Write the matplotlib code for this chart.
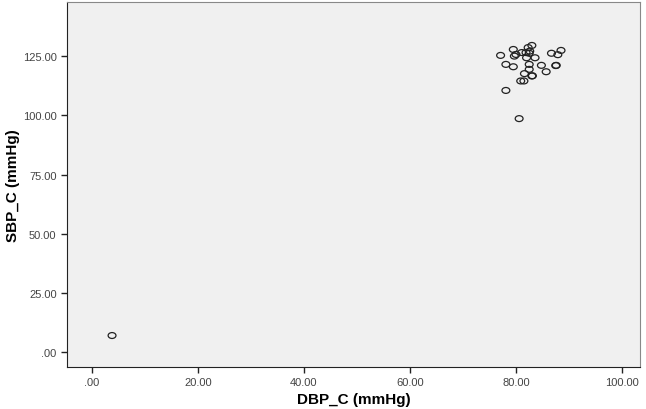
import matplotlib
matplotlib.use("Agg")
import matplotlib.pyplot as plt
from matplotlib.path import Path
from matplotlib.transforms import Affine2D

plt.rcParams['font.family'] = ['Liberation Sans', 'DejaVu Sans']

# DBP_C / SBP_C values
dbp = [3.8, 77.1, 79.5, 79.7, 80.0, 81.1, 81.9, 82.3, 82.6, 83.0, 82.5,
       82.0, 83.6, 78.1, 79.5, 82.5, 82.5, 84.8, 85.7, 86.7, 87.9, 88.5,
       87.5, 87.6, 81.6, 83.0, 83.1, 80.9, 81.5, 78.1, 80.6]
sbp = [7.0, 125.3, 127.8, 125.0, 125.7, 126.5, 126.5, 128.6, 127.1, 129.5, 126.2,
       124.3, 124.3, 121.5, 120.5, 121.5, 119.4, 121.1, 118.4, 126.2, 125.6, 127.4,
       121.0, 121.1, 117.6, 116.6, 116.7, 114.5, 114.5, 110.5, 98.6]

xticks = [0, 20, 40, 60, 80, 100]
yticks = [0, 25, 50, 75, 100, 125]

# slightly flattened circle, like the SPSS marker
ellipse = Path.unit_circle().transformed(Affine2D().scale(1.0, 0.75))

fig = plt.figure(figsize=(6.46, 4.10), dpi=100)
ax = fig.add_axes([0.1037, 0.1024, 0.887, 0.890])
ax.set_facecolor('#f0f0f0')

ax.scatter(dbp, sbp, s=32, marker=ellipse, facecolors='none',
           edgecolors='#222222', linewidths=0.9)

ax.set_xlim(-4.7, 103.4)
ax.set_ylim(-6.3, 147.8)
ax.set_xticks(xticks)
ax.set_yticks(yticks)
ax.set_xticklabels(['.00' if t == 0 else f'{t:.2f}' for t in xticks])
ax.set_yticklabels(['.00' if t == 0 else f'{t:.2f}' for t in yticks])
ax.tick_params(labelsize=8, length=4, width=1, color='#222222',
               labelcolor='#444444')

for s in ['top', 'right']:
    ax.spines[s].set_color('#888888')
for s in ['left', 'bottom']:
    ax.spines[s].set_color('#222222')

ax.set_xlabel('DBP_C (mmHg)', fontsize=11, fontweight='bold', labelpad=3)
ax.set_ylabel('SBP_C (mmHg)', fontsize=11, fontweight='bold', labelpad=2)

fig.savefig('out.png', dpi=100)
